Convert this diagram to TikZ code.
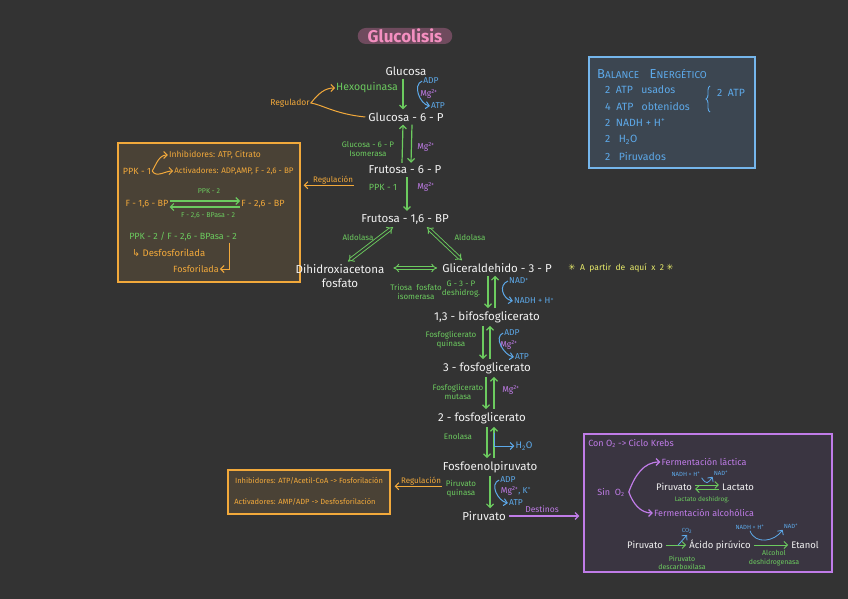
\documentclass[tikz,border=0pt]{standalone}
\usepackage{fontspec}
\setmainfont{Fira Sans}
\newfontfamily\symfont{DejaVu Sans}
\usetikzlibrary{positioning,arrows.meta,calc,decorations.pathreplacing}
\definecolor{bg}{HTML}{333333}
\definecolor{wht}{HTML}{F2F2F2}
\definecolor{grn}{HTML}{6CCB5F}
\definecolor{blu}{HTML}{5DA9E9}
\definecolor{pur}{HTML}{C07CE8}
\definecolor{org}{HTML}{F2A93B}
\definecolor{pnk}{HTML}{F48FC0}
\definecolor{pill}{HTML}{6F4B5E}
\definecolor{yel}{HTML}{E9EC6B}
\definecolor{obox}{HTML}{4A4236}
\definecolor{bbox}{HTML}{3C4651}
\definecolor{pbox}{HTML}{3A3541}

\begin{document}
\begin{tikzpicture}[x=1pt, y=-1pt,
  main/.style={text=wht, font=\fontsize{11.5}{13.5}\selectfont, inner sep=3pt},
  enz/.style={text=grn, font=\fontsize{8}{9}\selectfont, align=center, inner sep=1pt},
  cof/.style={text=blu, font=\fontsize{8.5}{9}\selectfont, inner sep=1pt},
  mg/.style={text=pur, font=\fontsize{8.5}{9}\selectfont, inner sep=1pt},
  note/.style={text=org, font=\fontsize{8.5}{9.5}\selectfont, inner sep=1pt},
  bal/.style={text=blu, font=\fontsize{10.5}{11}\selectfont, anchor=west, inner sep=1pt},
  ptxt/.style={text=pur, font=\fontsize{8.5}{10}\selectfont, inner sep=1pt},
  box/.style={draw, line width=1.3pt, inner sep=0pt},
  arr/.style={-{Straight Barb[length=3.5pt,width=7pt]}, line width=1.2pt},
  garr/.style={arr, draw=grn},
  barr/.style={arr, draw=blu, line width=1pt},
  oarr/.style={arr, draw=org, line width=1pt},
  parr/.style={arr, draw=pur},
  dbl/.style={draw=grn, double=bg, double distance=2pt, line width=0.9pt, {Implies}-{Implies}}]
  \fill[bg] (0,0) rectangle (848,599);
  \useasboundingbox (0,0) rectangle (848,599);
  % boxes
  \node[box, draw=org, fill=obox, minimum width=182pt, minimum height=139pt] (ppkbox) at (209,212.5) {};
  \node[box, draw=org, fill=obox, minimum width=162pt, minimum height=44pt] (regbox) at (309,492) {};
  \node[box, draw=blu!85!white, fill=bbox, minimum width=166pt, minimum height=111pt] (balbox) at (672,112.5) {};
  \node[box, draw=pur, fill=pbox, minimum width=248pt, minimum height=138pt] (destbox) at (708,503) {};
  \node[fill=pill, rounded corners=8pt, inner xsep=10pt, inner ysep=0pt, minimum height=16pt, text=pnk, font=\fontsize{17}{18}\selectfont\bfseries] (tit) at (405,36) {Glucolisis};
  % main path
  \node[main] (glc) at (406,71) {Glucosa};
  \node[main] (g6p) at (406,117) {Glucosa - 6 - P};
  \node[main] (f6p) at (405,170) {Frutosa - 6 - P};
  \node[main] (f16) at (405,219) {Frutosa - 1,6 - BP};
  \node[main, align=center] (dhap) at (340,276) {Dihidroxiacetona\\fosfato};
  \node[main] (gap) at (497,268) {Gliceraldehido - 3 - P};
  \node[main] (bpg) at (487,317) {1,3 - bifosfoglicerato};
  \node[main] (pg3) at (487,368) {3 - fosfoglicerato};
  \node[main] (pg2) at (482,418) {2 - fosfoglicerato};
  \node[main] (pep) at (490,467) {Fosfoenolpiruvato};
  \node[main] (pyr) at (484,516) {Piruvato};
  % enzymes and cofactors
  \node[enz, font=\fontsize{10.5}{11}\selectfont] (hk) at (367,88) {Hexoquinasa};
  \node[cof] (adp1) at (431,81) {ADP};
  \node[mg] (mg1) at (429,94) {Mg\textsuperscript{2+}};
  \node[cof] (atp1) at (438,106) {ATP};
  \node[note, font=\fontsize{8.5}{9}\selectfont] (regl) at (290,103) {Regulador};
  \node[enz] (gpi) at (368,149) {Glucosa - 6 - P\\Isomerasa};
  \node[mg] (mg2) at (426,147) {Mg\textsuperscript{2+}};
  \node[enz, font=\fontsize{9}{10}\selectfont] (pfk) at (383,187) {PPK - 1};
  \node[mg] (mg3) at (426,187) {Mg\textsuperscript{2+}};
  \node[note, font=\fontsize{8}{9}\selectfont] (reg1) at (333,180) {Regulación};
  \node[enz] (ald1) at (358,238) {Aldolasa};
  \node[enz] (ald2) at (470,238) {Aldolasa};
  \node[enz] (tpi) at (416,292) {Triosa \ fosfato\\isomerasa};
  \node[enz] (gapdh) at (461,289) {G - 3 - P\\deshidrog.};
  \node[cof] (nad) at (519,281) {NAD\textsuperscript{+}};
  \node[cof] (nadh) at (534,301) {NADH + H\textsuperscript{+}};
  \node[text=yel, font=\fontsize{8.5}{9}\selectfont] (x2) at (621,268) {{\symfont ✳} \ A \ partir \ de \ aquí \ x \ 2 {\symfont ✳}};
  \node[enz] (pgk) at (451,340) {Fosfoglicerato\\quinasa};
  \node[cof] (adp2) at (512,333) {ADP};
  \node[mg] (mg4) at (509,345) {Mg\textsuperscript{2+}};
  \node[cof] (atp2) at (522,357) {ATP};
  \node[enz] (pgm) at (458,392) {Fosfoglicerato\\mutasa};
  \node[mg] (mg5) at (511,390) {Mg\textsuperscript{2+}};
  \node[enz] (eno) at (458,437) {Enolasa};
  \node[cof, font=\fontsize{9.5}{10}\selectfont] (h2o) at (524,446) {H\textsubscript{2}O};
  \node[enz] (pk) at (461,489) {Piruvato\\quinasa};
  \node[cof] (adp3) at (508,480) {ADP};
  \node[mg, text=blu] (mg6) at (516,491) {\textcolor{pur}{Mg\textsuperscript{2+}}, K\textsuperscript{+}};
  \node[cof] (atp3) at (516,503) {ATP};
  \node[note, font=\fontsize{8}{9}\selectfont] (reg2) at (421,481) {Regulación};
  % side notes
  \node[note, font=\fontsize{9}{10}\selectfont] (ppk1b) at (137,171) {PPK - 1};
  \node[note] (inh1) at (215,155) {Inhibidores: ATP, Citrato};
  \node[note, font=\fontsize{8}{9}\selectfont] (act1) at (234,171) {Activadores: ADP,AMP, F - 2,6 - BP};
  \node[note, font=\fontsize{9}{10}\selectfont] (f16b) at (147,204) {F - 1,6 - BP};
  \node[note, font=\fontsize{9}{10}\selectfont] (f26b) at (263,204) {F - 2,6 - BP};
  \node[enz, font=\fontsize{7}{8}\selectfont] (ppk2) at (209,191) {PPK - 2};
  \node[enz, font=\fontsize{7}{8}\selectfont] (fbp2) at (208,216) {F - 2,6 - BPasa - 2};
  \node[enz, font=\fontsize{9}{10}\selectfont] (bif) at (183,237) {PPK - 2 / F - 2,6 - BPasa - 2};
  \node[note, anchor=west, font=\fontsize{9.5}{10}\selectfont] (desf) at (131,253) {{\symfont ↳} Desfosforilada};
  \node[note, font=\fontsize{9}{10}\selectfont] (fosf) at (196,269) {Fosforilada};
  \node[note, font=\fontsize{7.5}{8.5}\selectfont] (inh2) at (309,481) {Inhibidores: ATP/Acetil-CoA -> Fosforilación};
  \node[note, font=\fontsize{7.5}{8.5}\selectfont] (act2) at (305,502) {Activadores: AMP/ADP -> Desfosforilación};
  % balance
  \node[bal, font=\fontsize{13}{14}\selectfont] (baltit) at (596,74) {B{\fontsize{10}{11}\selectfont ALANCE} \ \ E{\fontsize{10}{11}\selectfont NERGÉTICO}};
  \node[bal] (b1) at (604,90) {2 \ ATP \ \ usados};
  \node[bal] (b2) at (604,106) {4 \ ATP \ \ obtenidos};
  \node[bal] (b3) at (604,123) {2 \ NADH + H\textsuperscript{+}};
  \node[bal] (b4) at (604,140) {2 \ \ H\textsubscript{2}O};
  \node[bal] (b5) at (604,156) {2 \ \ Piruvados};
  \node[bal] (b6) at (716,93) {2 \ ATP};
  \draw[blu, line width=0.9pt, decorate, decoration={brace, amplitude=4pt}] (710,112) -- (710,86);
  % destinos
  \node[ptxt, font=\fontsize{8.5}{9}\selectfont] (dest) at (542,509) {Destinos};
  \node[ptxt, font=\fontsize{9}{10}\selectfont] (krebs) at (631,443) {Con O\textsubscript{2} -> Ciclo Krebs};
  \node[ptxt, font=\fontsize{9}{10}\selectfont] (sin) at (611,492) {Sin \ O\textsubscript{2}};
  \node[ptxt, font=\fontsize{9}{10}\selectfont] (ferml) at (704,462) {Fermentación láctica};
  \node[ptxt, font=\fontsize{9}{10}\selectfont] (ferma) at (704,513) {Fermentación alcohólica};
  \node[main, font=\fontsize{9.5}{10}\selectfont] (pyrl) at (674,487) {Piruvato};
  \node[main, font=\fontsize{9.5}{10}\selectfont] (lac) at (738,487) {Lactato};
  \node[cof, font=\fontsize{6}{6}\selectfont] (nadh1) at (686,474) {NADH + H\textsuperscript{+}};
  \node[cof, font=\fontsize{6}{6}\selectfont] (nad1) at (721,473) {NAD\textsuperscript{+}};
  \node[enz, font=\fontsize{6.5}{7}\selectfont] (ldh) at (702,500) {Lactato deshidrog.};
  \node[main, font=\fontsize{9.5}{10}\selectfont] (pyra) at (645,545) {Piruvato};
  \node[main, font=\fontsize{9.5}{10}\selectfont] (aci) at (720,545) {Ácido pirúvico};
  \node[main, font=\fontsize{9.5}{10}\selectfont] (eth) at (805,545) {Etanol};
  \node[cof, font=\fontsize{6}{6}\selectfont] (co2) at (687,531) {CO\textsubscript{2}};
  \node[enz, font=\fontsize{7}{8.5}\selectfont] (pdc) at (682,563) {Piruvato\\descarboxilasa};
  \node[cof, font=\fontsize{6}{6}\selectfont] (nadh2) at (750,527) {NADH + H\textsuperscript{+}};
  \node[cof, font=\fontsize{6}{6}\selectfont] (nad2) at (791,526) {NAD\textsuperscript{+}};
  \node[enz, font=\fontsize{7}{8.5}\selectfont] (adh) at (774,558) {Alcohol\\deshidrogenasa};
  % glycolysis arrows
  \draw[garr] ([xshift=-3pt]glc.south) -- ([xshift=-3pt]g6p.north);
  \draw[garr] ([xshift=-3pt]f6p.north) -- ([xshift=-3pt]g6p.south);
  \draw[garr] ([xshift=6pt]g6p.south) -- ([xshift=6pt]f6p.north);
  \draw[garr] ([xshift=2pt]f6p.south) -- ([xshift=2pt]f16.north);
  \draw[dbl] ([xshift=-12pt]f16.south) -- ([xshift=8pt]dhap.north);
  \draw[dbl] ([xshift=22pt]f16.south) -- ([xshift=-35pt]gap.north);
  \draw[dbl] ([xshift=6pt]dhap.east |- gap.west) -- ([xshift=-2pt]gap.west);
  \draw[garr] ([xshift=-9pt]gap.south) -- ([xshift=1pt]bpg.north);
  \draw[garr] ([xshift=8pt]bpg.north) -- ([xshift=-2pt]gap.south);
  \draw[garr] ([xshift=-4pt]bpg.south) -- ([xshift=-4pt]pg3.north);
  \draw[garr] ([xshift=3pt]pg3.north) -- ([xshift=3pt]bpg.south);
  \draw[garr] ([xshift=-1pt]pg3.south) -- ([xshift=4pt]pg2.north);
  \draw[garr] ([xshift=12pt]pg2.north) -- ([xshift=7pt]pg3.south);
  \draw[garr] ([xshift=5pt]pg2.south) -- ([xshift=-3pt]pep.north);
  \draw[garr] ([xshift=4pt]pep.north) -- ([xshift=12pt]pg2.south);
  \draw[garr] (pep.south) -- ([xshift=6pt]pyr.north);
  % cofactor curves
  \draw[barr] (adp1.west) .. controls +(-10,4) and +(-10,-2) .. (atp1.west);
  \draw[barr] (nad.west) .. controls +(-10,4) and +(-10,-2) .. (nadh.west);
  \draw[barr] (adp2.west) .. controls +(-10,4) and +(-10,-2) .. (atp2.west);
  \draw[barr] (adp3.west) .. controls +(-10,4) and +(-10,-2) .. (atp3.west);
  \draw[barr] ([xshift=12pt,yshift=-6pt]pg2.south) |- (h2o.west);
  % regulation
  \draw[oarr] (g6p.west) .. controls +(-30,-3) and +(12,2) .. (regl.east) .. controls +(8,-10) and +(-10,0) .. (hk.west);
  \draw[oarr] (reg1.south east) -- ([xshift=3pt]ppkbox.east |- reg1.south);
  \draw[oarr] (reg2.south east) -- ([xshift=4pt]regbox.east |- reg2.south);
  \draw[oarr] (ppk1b.east) to[out=60,in=180] (inh1.west);
  \draw[oarr] (ppk1b.east) to[out=-60,in=180] (act1.west);
  \draw[garr] ([yshift=3pt]f16b.east) -- ([yshift=3pt]f26b.west);
  \draw[garr] ([yshift=-3pt]f26b.west) -- ([yshift=-3pt]f16b.east);
  \draw[oarr] ([xshift=-8pt]bif.south east) |- (fosf.east);
  % destinos
  \draw[parr] (pyr.east) -- ([xshift=-4pt]pyr.east -| destbox.west);
  \draw[parr] ([xshift=3pt]sin.east) to[out=70,in=180] (ferml.west);
  \draw[parr] ([xshift=3pt]sin.east) to[out=-70,in=180] (ferma.west);
  \draw[garr, line width=0.9pt] ([yshift=2pt]pyrl.east) -- ([yshift=2pt]lac.west);
  \draw[garr, line width=0.9pt] ([yshift=-2pt]lac.west) -- ([yshift=-2pt]pyrl.east);
  \draw[barr, line width=0.8pt] (nadh1.south east) .. controls +(5,7) and +(-5,7) .. (nad1.south west);
  \draw[garr, line width=0.9pt] (pyra.east) -- (aci.west);
  \draw[barr, line width=0.8pt] ($(pyra.east)!0.6!(aci.west)$) -- (co2.south);
  \draw[garr, line width=0.9pt] (aci.east) -- (eth.west);
  \draw[barr, line width=0.8pt] (nadh2.south) .. controls +(5,14) and +(-8,12) .. (nad2.south west);
\end{tikzpicture}
\end{document}
